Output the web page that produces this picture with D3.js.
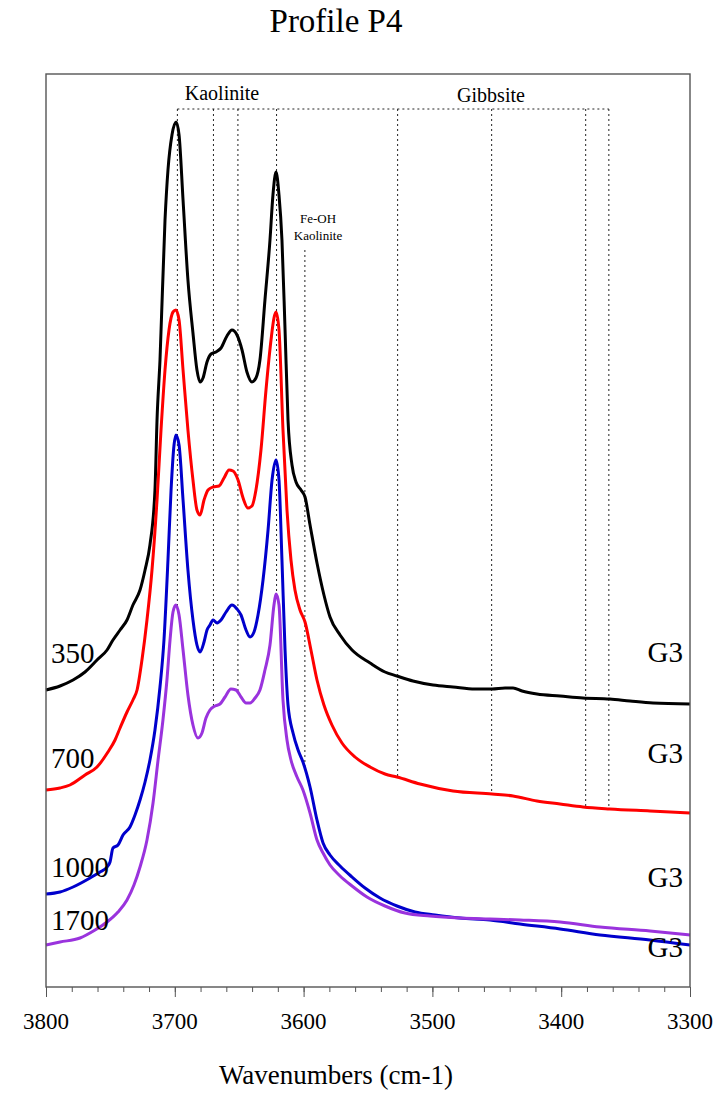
<!DOCTYPE html>
<html>
<head>
<meta charset="utf-8">
<script src="https://cdn.jsdelivr.net/npm/d3@7"></script>
<style>
  html, body { margin: 0; padding: 0; background: #fff; }
  svg { display: block; }
  .lbl { font-family: "Liberation Serif", "Times New Roman", serif; fill: #000; }
</style>
</head>
<body>
<svg id="chart" width="728" height="1094"></svg>
<script>
// FTIR spectra, OH-stretching region, profile P4 (depth in cm, horizon G3)
const depths = ["350", "700", "1000", "1700"];
const horizons = ["G3", "G3", "G3", "G3"];
const colors = ["#000000", "#ff0000", "#0000cc", "#9a33dd"];

// Wavenumbers (cm-1) and absorbance (a.u.) for each spectrum
const wn350 = [3800,3789.1,3779,3769.7,3760.4,3752.6,3748,3742.5,3737.1,3732.5,3727,3723.1,3719.3,3715.4,3713.8,3711.5,3707.6,3705.3,3702.2,3699,3696.7,3693.6,3689.8,3685.9,3682.8,3680.4,3678.1,3675,3671.9,3668,3664.1,3659.5,3655.6,3651.7,3647.8,3644,3640.1,3637,3633.9,3630,3626.1,3623.8,3621.4,3619.1,3616.8,3614.4,3612.1,3609,3605.9,3602,3598.9,3595,3589.6,3584.2,3579.5,3571.7,3562.4,3548.4,3536.8,3527.5,3515.1,3499.5,3484,3466.9,3453.7,3443.6,3437.4,3430.4,3418.8,3400.9,3383.1,3362.3,3346.6,3328.7,3300];
const ab350 = [0.297,0.301,0.307,0.315,0.327,0.337,0.347,0.357,0.367,0.382,0.397,0.417,0.442,0.497,0.567,0.627,0.767,0.817,0.852,0.865,0.852,0.787,0.707,0.654,0.617,0.605,0.609,0.625,0.633,0.635,0.639,0.651,0.657,0.652,0.637,0.615,0.605,0.609,0.627,0.687,0.747,0.792,0.815,0.792,0.747,0.657,0.567,0.522,0.505,0.497,0.490,0.462,0.424,0.392,0.370,0.352,0.337,0.324,0.315,0.311,0.306,0.302,0.300,0.298,0.298,0.299,0.299,0.296,0.293,0.291,0.289,0.288,0.286,0.284,0.283];

const wn700 = [3800,3789.1,3781.4,3769.7,3760.4,3751.9,3746.4,3742.5,3737.1,3732.5,3729.3,3725.5,3721.6,3717.7,3713.8,3710.7,3707.6,3704.5,3701.4,3699.1,3696.7,3693.6,3689.8,3685.9,3682.8,3680.4,3677.3,3674.2,3670.3,3665.7,3661.8,3657.9,3654.8,3650.9,3647,3643.2,3640.1,3637,3633.1,3629.2,3625.3,3623,3621.4,3619.1,3616,3612.9,3609.8,3606.7,3602.8,3598.9,3594.3,3589.6,3584.2,3578,3570.2,3560.1,3548.4,3536.8,3527.5,3509.6,3484,3453.7,3437.4,3418.8,3400.9,3383.1,3362.3,3331.1,3300];
const ab700 = [0.197,0.199,0.202,0.212,0.220,0.235,0.247,0.259,0.275,0.287,0.297,0.327,0.367,0.417,0.487,0.557,0.617,0.657,0.675,0.677,0.667,0.617,0.557,0.507,0.477,0.472,0.487,0.497,0.500,0.501,0.509,0.517,0.516,0.507,0.489,0.479,0.481,0.497,0.537,0.597,0.647,0.669,0.675,0.657,0.557,0.477,0.427,0.397,0.377,0.365,0.337,0.307,0.282,0.262,0.244,0.230,0.220,0.213,0.210,0.203,0.196,0.193,0.191,0.186,0.183,0.180,0.178,0.176,0.174];

const wn1000 = [3800,3789.1,3779,3765.8,3758.1,3752.6,3750.3,3748,3744.1,3740.2,3734.8,3730.9,3727,3723.1,3719.3,3715.4,3711.5,3708.4,3705.3,3702.9,3700.6,3699.1,3696.7,3693.6,3689.8,3685.9,3682.8,3680.4,3677.3,3675,3672.7,3670.3,3667.2,3664.1,3660.2,3655.6,3651.7,3648.6,3644.7,3641.6,3638.5,3635.4,3631.5,3627.6,3624.5,3621.4,3619.1,3616.8,3614.4,3612.1,3608.2,3604.3,3600.5,3595,3589.6,3584.9,3579.5,3571.7,3562.4,3552.3,3540.7,3527.5,3513.5,3498,3478.6,3455.3,3432,3400.9,3369.9,3331.1,3300];
const ab1000 = [0.093,0.095,0.100,0.109,0.115,0.120,0.125,0.139,0.142,0.152,0.160,0.172,0.187,0.205,0.227,0.257,0.300,0.347,0.427,0.497,0.542,0.552,0.542,0.487,0.417,0.367,0.342,0.335,0.345,0.357,0.362,0.367,0.364,0.367,0.375,0.382,0.378,0.372,0.357,0.350,0.355,0.372,0.407,0.457,0.507,0.527,0.507,0.427,0.337,0.282,0.254,0.237,0.225,0.200,0.167,0.144,0.132,0.121,0.110,0.099,0.089,0.081,0.075,0.072,0.069,0.067,0.063,0.058,0.052,0.047,0.042];

const wn1700 = [3800,3789.1,3773.6,3761.9,3752.6,3744.1,3737.1,3731.7,3727,3721.6,3716.9,3713,3709.2,3706.1,3703.7,3701.4,3699.1,3696.7,3693.6,3689.8,3685.9,3682,3678.9,3675.8,3672.7,3668.8,3664.9,3661,3656.4,3652.5,3648.6,3644.7,3641.6,3637.7,3633.9,3630,3626.1,3623,3621.4,3619.1,3616,3612.9,3609.8,3605.1,3600.5,3595,3589.6,3584.9,3579.5,3571.7,3562.4,3550.8,3536.8,3521.3,3501.9,3478.6,3455.3,3432,3400.9,3369.9,3331.1,3300];
const ab1700 = [0.042,0.045,0.049,0.057,0.065,0.075,0.087,0.102,0.120,0.147,0.184,0.227,0.267,0.307,0.347,0.375,0.382,0.372,0.337,0.292,0.262,0.249,0.254,0.269,0.277,0.281,0.283,0.290,0.298,0.297,0.290,0.284,0.284,0.289,0.297,0.317,0.342,0.382,0.393,0.382,0.287,0.247,0.227,0.210,0.197,0.174,0.147,0.134,0.122,0.111,0.101,0.090,0.081,0.074,0.071,0.069,0.068,0.067,0.065,0.060,0.056,0.052];

// Band assignments (cm-1)
const kaoliniteBands = [3698, 3670, 3651, 3621];
const gibbsiteBands = [3527, 3454, 3381, 3363];
const feohBand = 3599;
const bracketLevel = 0.878;
const feohTop = 0.737;

// X axis ticks
const majorTicks = [3800, 3700, 3600, 3500, 3400, 3300];
const minorTicks = d3.range(3800, 3299, -20);

const spectra = [
  { wn: wn350, ab: ab350 },
  { wn: wn700, ab: ab700 },
  { wn: wn1000, ab: ab1000 },
  { wn: wn1700, ab: ab1700 }
];

const plot = { left: 46, right: 690, top: 74, bottom: 987 };
const svg = d3.select("#chart");

const x = d3.scaleLinear().domain([3800, 3300]).range([plot.left, plot.right]);
const y = d3.scaleLinear().domain([0, 0.913]).range([plot.bottom, plot.top]);

// value of a spectrum at a given wavenumber (linear between stored points)
function valueAt(s, w) {
  for (let i = 0; i < s.wn.length - 1; i++) {
    const a = s.wn[i], b = s.wn[i + 1];
    if (w <= a && w >= b) {
      const t = (a - w) / (a - b);
      return s.ab[i] + t * (s.ab[i + 1] - s.ab[i]);
    }
  }
  return s.ab[s.ab.length - 1];
}

const dotted = g => g.attr("stroke", "#222").attr("stroke-width", 1)
  .attr("stroke-dasharray", "2,3").attr("fill", "none");

// band marker lines
const markers = svg.append("g");
markers.append("line")
  .attr("x1", x(kaoliniteBands[0])).attr("x2", x(gibbsiteBands[3]))
  .attr("y1", y(bracketLevel)).attr("y2", y(bracketLevel))
  .call(dotted);
markers.selectAll(".kao").data(kaoliniteBands).join("line")
  .attr("x1", d => x(d)).attr("x2", d => x(d))
  .attr("y1", y(bracketLevel)).attr("y2", d => y(valueAt(spectra[3], d)))
  .call(dotted);
markers.selectAll(".gib").data(gibbsiteBands).join("line")
  .attr("x1", d => x(d)).attr("x2", d => x(d))
  .attr("y1", y(bracketLevel)).attr("y2", d => y(valueAt(spectra[1], d)))
  .call(dotted);
markers.append("line")
  .attr("x1", x(feohBand)).attr("x2", x(feohBand))
  .attr("y1", y(feohTop)).attr("y2", y(valueAt(spectra[2], feohBand)))
  .call(dotted);

// spectra
const line = d3.line()
  .x(d => x(d[0]))
  .y(d => y(d[1]))
  .curve(d3.curveMonotoneX);

svg.append("g").selectAll("path").data(spectra).join("path")
  .attr("d", s => line(s.wn.map((w, i) => [w, s.ab[i]])))
  .attr("fill", "none")
  .attr("stroke", (s, i) => colors[i])
  .attr("stroke-width", 3)
  .attr("stroke-linejoin", "round");

// frame
svg.append("rect")
  .attr("x", plot.left).attr("y", plot.top)
  .attr("width", plot.right - plot.left).attr("height", plot.bottom - plot.top)
  .attr("fill", "none").attr("stroke", "#555").attr("stroke-width", 1.4);

// x axis: tick marks from d3.axisBottom, labels set in the serif face
const axisG = svg.append("g").attr("transform", `translate(0,${plot.bottom})`);
axisG.append("g")
  .call(d3.axisBottom(x).tickValues(minorTicks).tickSize(5).tickFormat(""))
  .call(g => g.select(".domain").remove())
  .call(g => g.selectAll("line").attr("stroke", "#555"));
axisG.append("g")
  .call(d3.axisBottom(x).tickValues(majorTicks).tickSize(10).tickFormat(""))
  .call(g => g.select(".domain").remove())
  .call(g => g.selectAll("line").attr("stroke", "#555"));
axisG.append("g").selectAll("text").data(majorTicks).join("text")
  .attr("class", "lbl")
  .attr("x", d => x(d)).attr("y", 42)
  .attr("text-anchor", "middle")
  .attr("font-size", 23)
  .text(d3.format("d"));

// titles
svg.append("text").attr("class", "lbl").attr("x", 336).attr("y", 32).attr("text-anchor", "middle")
  .attr("font-size", 33).text("Profile P4");
svg.append("text").attr("class", "lbl").attr("x", 336).attr("y", 1084).attr("text-anchor", "middle")
  .attr("font-size", 27).text("Wavenumbers (cm-1)");

// band labels
svg.append("text").attr("class", "lbl").attr("x", 222).attr("y", 100).attr("text-anchor", "middle")
  .attr("font-size", 20).text("Kaolinite");
svg.append("text").attr("class", "lbl").attr("x", 491).attr("y", 102).attr("text-anchor", "middle")
  .attr("font-size", 20).text("Gibbsite");
svg.append("text").attr("class", "lbl").attr("x", 318).attr("y", 223).attr("text-anchor", "middle")
  .attr("font-size", 13).text("Fe-OH");
svg.append("text").attr("class", "lbl").attr("x", 318).attr("y", 240).attr("text-anchor", "middle")
  .attr("font-size", 13).text("Kaolinite");

// depth and horizon labels
const depthBaseline = [663, 768, 877, 930];
const horizonBaseline = [662, 763, 887, 957];
svg.append("g").selectAll("text").data(depths).join("text")
  .attr("class", "lbl")
  .attr("x", 51).attr("y", (d, i) => depthBaseline[i])
  .attr("font-size", 29).text(d => d);
svg.append("g").selectAll("text").data(horizons).join("text")
  .attr("class", "lbl")
  .attr("x", 683).attr("y", (d, i) => horizonBaseline[i]).attr("text-anchor", "end")
  .attr("font-size", 29).text(d => d);
</script>
</body>
</html>
